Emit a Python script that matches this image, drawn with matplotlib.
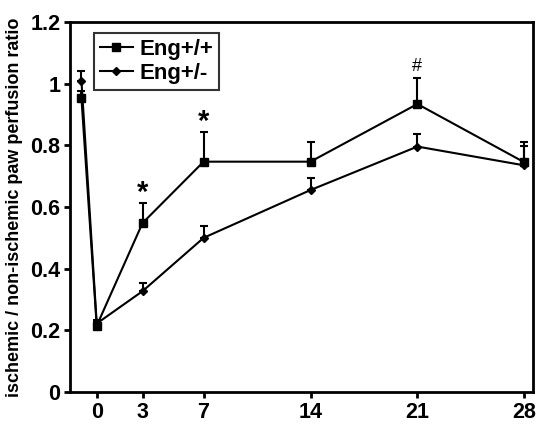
import matplotlib.pyplot as plt
from matplotlib.lines import Line2D
import numpy as np

plt.rcParams['font.family'] = ['Liberation Sans', 'DejaVu Sans']

# days after ischemia (-1 = baseline before surgery)
days = [-1, 0, 3, 7, 14, 21, 28]
tick_days = [0, 3, 7, 14, 21, 28]

# Eng+/+ (wild type)
wt = [0.953, 0.215, 0.548, 0.747, 0.747, 0.934, 0.745]
wt_err = [0.024, 0.015, 0.064, 0.097, 0.065, 0.086, 0.067]

# Eng+/- (heterozygous)
het = [1.009, 0.222, 0.327, 0.500, 0.655, 0.796, 0.735]
het_err = [0.033, 0.012, 0.028, 0.037, 0.040, 0.040, 0.064]

# significance marks
sig_x = [3, 7, 21]
sig_y = [0.645, 0.877, 1.055]
sig_txt = ['*', '*', '#']

fig = plt.figure(figsize=(5.36, 4.24), dpi=100)
ax = fig.add_axes([0.1306, 0.0755, 0.8638, 0.8726])

zero = np.zeros(len(days))
ax.errorbar(days, wt, yerr=[zero, wt_err], color='black', lw=1.5,
            marker='s', ms=5.5, capsize=3, elinewidth=1.5, capthick=1.5)
ax.errorbar(days, het, yerr=[zero, het_err], color='black', lw=1.5,
            marker='D', ms=4.5, capsize=3, elinewidth=1.5, capthick=1.5)

for x, y, t in zip(sig_x, sig_y, sig_txt):
    if t == '*':
        ax.text(x, y, t, ha='center', va='center', fontsize=21, fontweight='bold')
    else:
        ax.text(x, y, t, ha='center', va='center', fontsize=13)

ax.set_xlim(-1.75, 28.57)
ax.set_ylim(0, 1.2)
ax.set_xticks(tick_days)
ax.set_yticks([0, 0.2, 0.4, 0.6, 0.8, 1.0, 1.2])
ax.set_yticklabels(['0', '0.2', '0.4', '0.6', '0.8', '1', '1.2'])
ax.tick_params(labelsize=15.5, width=2, length=4, direction='out', pad=3)
for lab in ax.get_xticklabels() + ax.get_yticklabels():
    lab.set_fontweight('bold')
for s in ax.spines.values():
    s.set_linewidth(2)

ax.set_ylabel('ischemic / non-ischemic paw perfusion ratio', fontsize=13,
              fontweight='bold', labelpad=5)

handles = [Line2D([], [], color='black', lw=1.5, marker='s', ms=5.5),
           Line2D([], [], color='black', lw=1.5, marker='D', ms=4.5)]
leg = ax.legend(handles, ['Eng+/+', 'Eng+/-'], loc='upper left',
                bbox_to_anchor=(0.052, 0.97), frameon=True,
                fancybox=False, edgecolor='black', handlelength=1.5,
                handletextpad=0.3, borderpad=0.25, labelspacing=0.15,
                borderaxespad=0, prop={'size': 16, 'weight': 'bold'})
leg.get_frame().set_linewidth(1.5)

plt.savefig('out.png', dpi=100)
